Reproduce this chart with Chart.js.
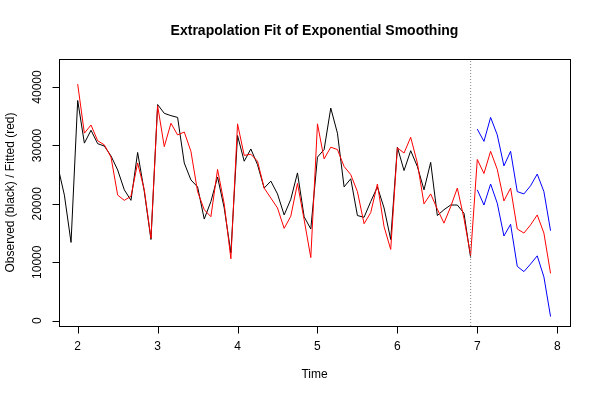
<!DOCTYPE html>
<html>
<head>
<meta charset="utf-8">
<script src="https://cdn.jsdelivr.net/npm/chart.js@4"></script>
<style>
  html,body{margin:0;padding:0;background:#fff;}
  #wrap{width:600px;height:400px;}
</style>
</head>
<body>
<div id="wrap"><canvas id="fitChart" width="600" height="400"></canvas></div>
<script>
// monthly series, frequency 12
const freq = 12;
const obsStart = 1.75;
const fitStart = 2.0;
const fcStart = 7.0;

const observed = [26500,21500,13400,
  37700,30400,32600,30300,29900,28200,25800,22400,20600,28800,22100,13900,
  37000,35500,35100,34800,27000,24100,22900,17400,20400,24600,19300,11600,
  31700,27300,29400,26700,22700,23900,21700,18100,20800,25300,17800,15700,
  28000,29300,36400,32100,22900,24300,18000,17700,20400,22900,19300,13900,
  29700,25700,29100,26400,22400,27100,18000,19000,19800,19800,18400,10800];

const fitted = [40500,32100,33500,30800,30100,28000,21500,20600,21300,27000,22400,14100,
  36800,29800,33800,31800,32300,29000,22100,19000,17800,25900,20000,10600,
  33700,28300,28500,27300,22700,21000,19300,15800,17900,23500,17300,10800,
  33700,27700,29700,29300,26400,25000,22100,16600,18500,23400,16100,12200,
  29600,28700,31400,27000,20000,21700,19100,16700,19500,22700,17500,11200];

const forecast = [27600,25200,29000,25900,20500,22700,15700,15000,16400,18100,15000,8100];
const upper = [32800,30700,34800,31800,26500,29000,22100,21700,23100,25100,22100,15400];
const lower = [22400,19800,23400,20100,14500,16500,9300,8400,9700,11100,7500,700];

const xTicks = [2,3,4,5,6,7,8];
const yTicks = [0,10000,20000,30000,40000];
const cutoff = 6.917;

function toPoints(start, vals){
    return vals.map((v,i)=>({x:start + i/freq, y:v}));
}

const xMin = 1.766, xMax = 8.16, yMin = -910, yMax = 44800;

// R style axes, box and texts
const rAxes = {
    id:'rAxes',
    afterDraw(chart){
        const ctx = chart.ctx, a = chart.chartArea;
        const xs = chart.scales.x, ys = chart.scales.y;
        ctx.save();
        ctx.strokeStyle = '#000';
        ctx.lineWidth = 1;
        ctx.strokeRect(Math.round(a.left)+0.5, Math.round(a.top)+0.5, Math.round(a.right-a.left), Math.round(a.bottom-a.top));
        ctx.fillStyle = '#000';
        ctx.font = '12px "Liberation Sans", Arial, sans-serif';
        // x axis
        const by = Math.round(a.bottom)+0.5;
        ctx.beginPath();
        ctx.moveTo(xs.getPixelForValue(xTicks[0]), by);
        ctx.lineTo(xs.getPixelForValue(xTicks[xTicks.length-1]), by);
        xTicks.forEach(t=>{
            const px = Math.round(xs.getPixelForValue(t))+0.5;
            ctx.moveTo(px, by); ctx.lineTo(px, by+7);
        });
        ctx.stroke();
        ctx.textAlign = 'center';
        ctx.textBaseline = 'middle';
        xTicks.forEach(t=>{
            ctx.fillText(String(t), xs.getPixelForValue(t), 347);
        });
        // y axis
        const lx = Math.round(a.left)+0.5;
        ctx.beginPath();
        ctx.moveTo(lx, ys.getPixelForValue(yTicks[0]));
        ctx.lineTo(lx, ys.getPixelForValue(yTicks[yTicks.length-1]));
        yTicks.forEach(t=>{
            const py = Math.round(ys.getPixelForValue(t))+0.5;
            ctx.moveTo(lx, py); ctx.lineTo(lx-7, py);
        });
        ctx.stroke();
        yTicks.forEach(t=>{
            ctx.save();
            ctx.translate(38, ys.getPixelForValue(t));
            ctx.rotate(-Math.PI/2);
            ctx.fillText(String(t), 0, 0);
            ctx.restore();
        });
        // labels
        ctx.fillText('Time', (a.left+a.right)/2, 375);
        ctx.save();
        ctx.translate(11, (a.top+a.bottom)/2);
        ctx.rotate(-Math.PI/2);
        ctx.fillText('Observed (black) / Fitted (red)', 0, 0);
        ctx.restore();
        ctx.font = 'bold 14px "Liberation Sans", Arial, sans-serif';
        ctx.fillText('Extrapolation Fit of Exponential Smoothing', (a.left+a.right)/2, 31);
        ctx.restore();
    }
};

const ctx = document.getElementById('fitChart').getContext('2d');
const chart = new Chart(ctx, {
    type:'line',
    data:{
        datasets:[
            {label:'cutoff', data:[{x:cutoff,y:yMin},{x:cutoff,y:yMax}], borderColor:'#888', borderWidth:1, borderDash:[1,2]},
            {label:'upper', data:toPoints(fcStart, upper), borderColor:'#0000ff', borderWidth:1},
            {label:'lower', data:toPoints(fcStart, lower), borderColor:'#0000ff', borderWidth:1},
            {label:'fitted', data:toPoints(fitStart, fitted.concat(forecast)), borderColor:'#ff0000', borderWidth:1},
            {label:'observed', data:toPoints(obsStart, observed), borderColor:'#000000', borderWidth:1}
        ]
    },
    options:{
        responsive:false,
        animation:false,
        parsing:true,
        elements:{point:{radius:0}, line:{tension:0}},
        layout:{padding:{left:59, top:59, right:30, bottom:74}},
        scales:{
            x:{type:'linear', min:xMin, max:xMax, display:false},
            y:{type:'linear', min:yMin, max:yMax, display:false}
        },
        plugins:{legend:{display:false}, tooltip:{enabled:false}, title:{display:false}}
    },
    plugins:[rAxes]
});
</script>
</body>
</html>
